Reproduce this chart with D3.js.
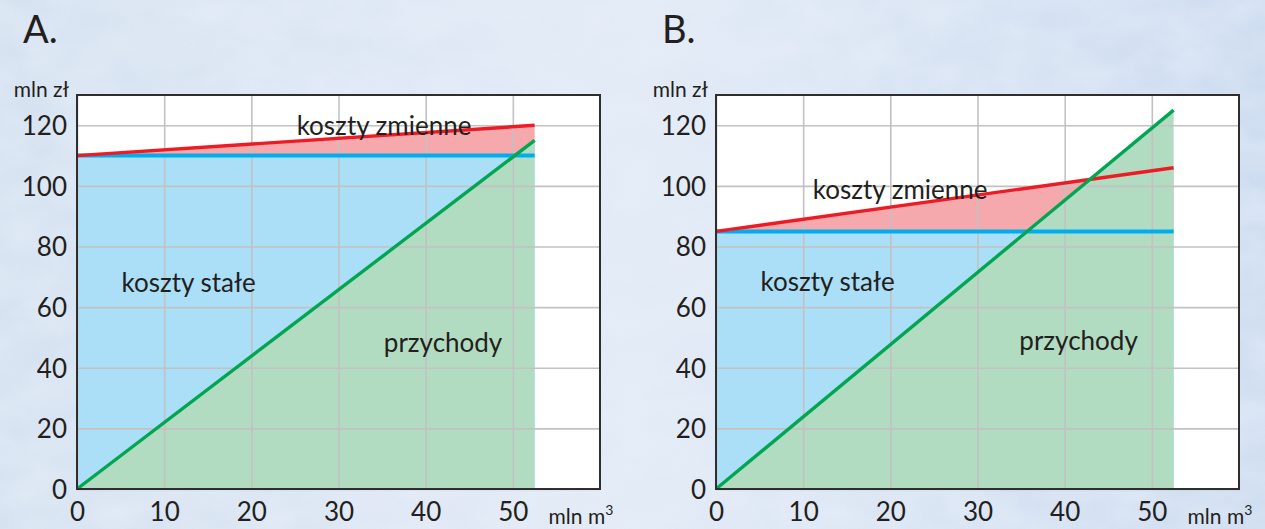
<!DOCTYPE html>
<html>
<head>
<meta charset="utf-8">
<script src="https://cdn.jsdelivr.net/npm/d3@7"></script>
<style>
  html, body { margin: 0; padding: 0; background: #dde7f3; }
  svg { display: block; }
  text { font-family: Lato, "Noto Sans", sans-serif; fill: #231f20; }
</style>
</head>
<body>
<svg id="chart" width="1265" height="529"></svg>
<script>
// values (mln m3 -> mln zl)
const volume = [0, 52.5];
const fixedA = [110, 110];
const totalA = [110, 120];
const revenueA = [0, 115];
const fixedB = [85, 85];
const totalB = [85, 106];
const revenueB = [0, 125];
const xTicks = [0, 10, 20, 30, 40, 50];
const yTicks = [0, 20, 40, 60, 80, 100, 120];

const W = 1265, H = 529;
const plotW = 523, plotH = 394;

let svg = d3.select("#chart");

// background: pale blue with a watery texture
let defs = svg.append("defs");
let f = defs.append("filter").attr("id", "water").attr("x", 0).attr("y", 0).attr("width", 1).attr("height", 1);
f.append("feTurbulence").attr("type", "fractalNoise").attr("baseFrequency", "0.018 0.03").attr("numOctaves", 3).attr("seed", 7);
f.append("feColorMatrix").attr("type", "matrix")
  .attr("values", "0 0 0 0 0.80  0 0 0 0 0.86  0 0 0 0 0.95  0 0 0 -1.6 1.25");
let g0 = defs.append("linearGradient").attr("id", "bg").attr("x1", 0).attr("x2", 1);
g0.append("stop").attr("offset", 0).attr("stop-color", "#d6e2f1");
g0.append("stop").attr("offset", 0.5).attr("stop-color", "#e3ebf6");
g0.append("stop").attr("offset", 1).attr("stop-color", "#cddcf0");
svg.append("rect").attr("width", W).attr("height", H).attr("fill", "url(#bg)");
svg.append("rect").attr("width", W).attr("height", H).attr("fill", "#fff").attr("filter", "url(#water)").attr("opacity", 0.55);

let x = d3.scaleLinear().domain([0, 60]).range([0, plotW]);
let y = d3.scaleLinear().domain([0, 130]).range([plotH, 0]);

function panel(left, title, fixed, total, revenue, labels) {
  let g = svg.append("g").attr("transform", `translate(${left},95)`);

  svg.append("text").attr("x", left - 54).attr("y", 43)
    .attr("font-size", 38).text(title);

  g.append("rect").attr("width", plotW).attr("height", plotH).attr("fill", "#fff");

  let pts = (arr) => volume.map((v, i) => [v, arr[i]]);

  // fills
  g.append("path").datum(volume.map((v, i) => ({ x: v, lo: 0, hi: fixed[i] })))
    .attr("fill", "#abdff8")
    .attr("d", d3.area().x(d => x(d.x)).y0(d => y(d.lo)).y1(d => y(d.hi)));
  g.append("path").datum(volume.map((v, i) => ({ x: v, lo: fixed[i], hi: total[i] })))
    .attr("fill", "#f5a9ad")
    .attr("d", d3.area().x(d => x(d.x)).y0(d => y(d.lo)).y1(d => y(d.hi)));
  g.append("path").datum(volume.map((v, i) => ({ x: v, lo: 0, hi: revenue[i] })))
    .attr("fill", "#b2dcc1")
    .attr("d", d3.area().x(d => x(d.x)).y0(d => y(d.lo)).y1(d => y(d.hi)));

  // grid
  g.append("g").call(d3.axisLeft(y).tickValues(yTicks).tickSize(-plotW).tickFormat(""))
    .call(a => a.select(".domain").remove())
    .selectAll("line").attr("stroke", "#c2c2c2").attr("stroke-width", 1.6);
  g.append("g").attr("transform", `translate(0,${plotH})`)
    .call(d3.axisBottom(x).tickValues(xTicks).tickSize(plotH).tickFormat(""))
    .call(a => a.select(".domain").remove())
    .selectAll("line").attr("stroke", "#c2c2c2").attr("stroke-width", 1.6)
    .attr("y2", -plotH);

  // lines
  let line = d3.line().x(d => x(d[0])).y(d => y(d[1]));
  g.append("path").datum(pts(fixed)).attr("fill", "none").attr("stroke", "#00aeef").attr("stroke-width", 4).attr("d", line);
  g.append("path").datum(pts(total)).attr("fill", "none").attr("stroke", "#ed1c24").attr("stroke-width", 3.4).attr("d", line);
  g.append("path").datum(pts(revenue)).attr("fill", "none").attr("stroke", "#00a651").attr("stroke-width", 3.4).attr("d", line);

  // frame
  g.append("rect").attr("width", plotW).attr("height", plotH)
    .attr("fill", "none").attr("stroke", "#2e2e2e").attr("stroke-width", 2);

  // tick labels
  let yl = g.append("g").call(d3.axisLeft(y).tickValues(yTicks).tickSize(0).tickPadding(10));
  yl.select(".domain").remove();
  yl.selectAll("text").attr("font-size", 26).attr("font-family", "Lato").attr("fill", "#231f20").attr("dy", "0.36em");
  let xl = g.append("g").attr("transform", `translate(0,${plotH})`)
    .call(d3.axisBottom(x).tickValues(xTicks).tickSize(0).tickPadding(14));
  xl.select(".domain").remove();
  xl.selectAll("text").attr("font-size", 26).attr("font-family", "Lato").attr("fill", "#231f20").attr("dy", "0.71em");

  // units
  g.append("text").attr("x", -8).attr("y", 2).attr("text-anchor", "end")
    .attr("font-size", 21).text("mln zł");
  let u = g.append("text").attr("x", x(54.1)).attr("y", plotH + 35).attr("font-size", 21);
  u.append("tspan").text("mln m");
  u.append("tspan").attr("font-size", 14).attr("dy", -9).text("3");

  // area labels
  labels.forEach(l => {
    g.append("text").attr("x", x(l.x)).attr("y", y(l.y))
      .attr("font-size", 26).text(l.text);
  });
}

panel(77, "A.", fixedA, totalA, revenueA, [
  { text: "koszty zmienne", x: 25.2, y: 116.7 },
  { text: "koszty stałe", x: 5.1, y: 65 },
  { text: "przychody", x: 35.2, y: 45.3 }
]);
panel(716, "B.", fixedB, totalB, revenueB, [
  { text: "koszty zmienne", x: 11.1, y: 95.6 },
  { text: "koszty stałe", x: 5.1, y: 65.4 },
  { text: "przychody", x: 34.8, y: 45.8 }
]);
</script>
</body>
</html>
